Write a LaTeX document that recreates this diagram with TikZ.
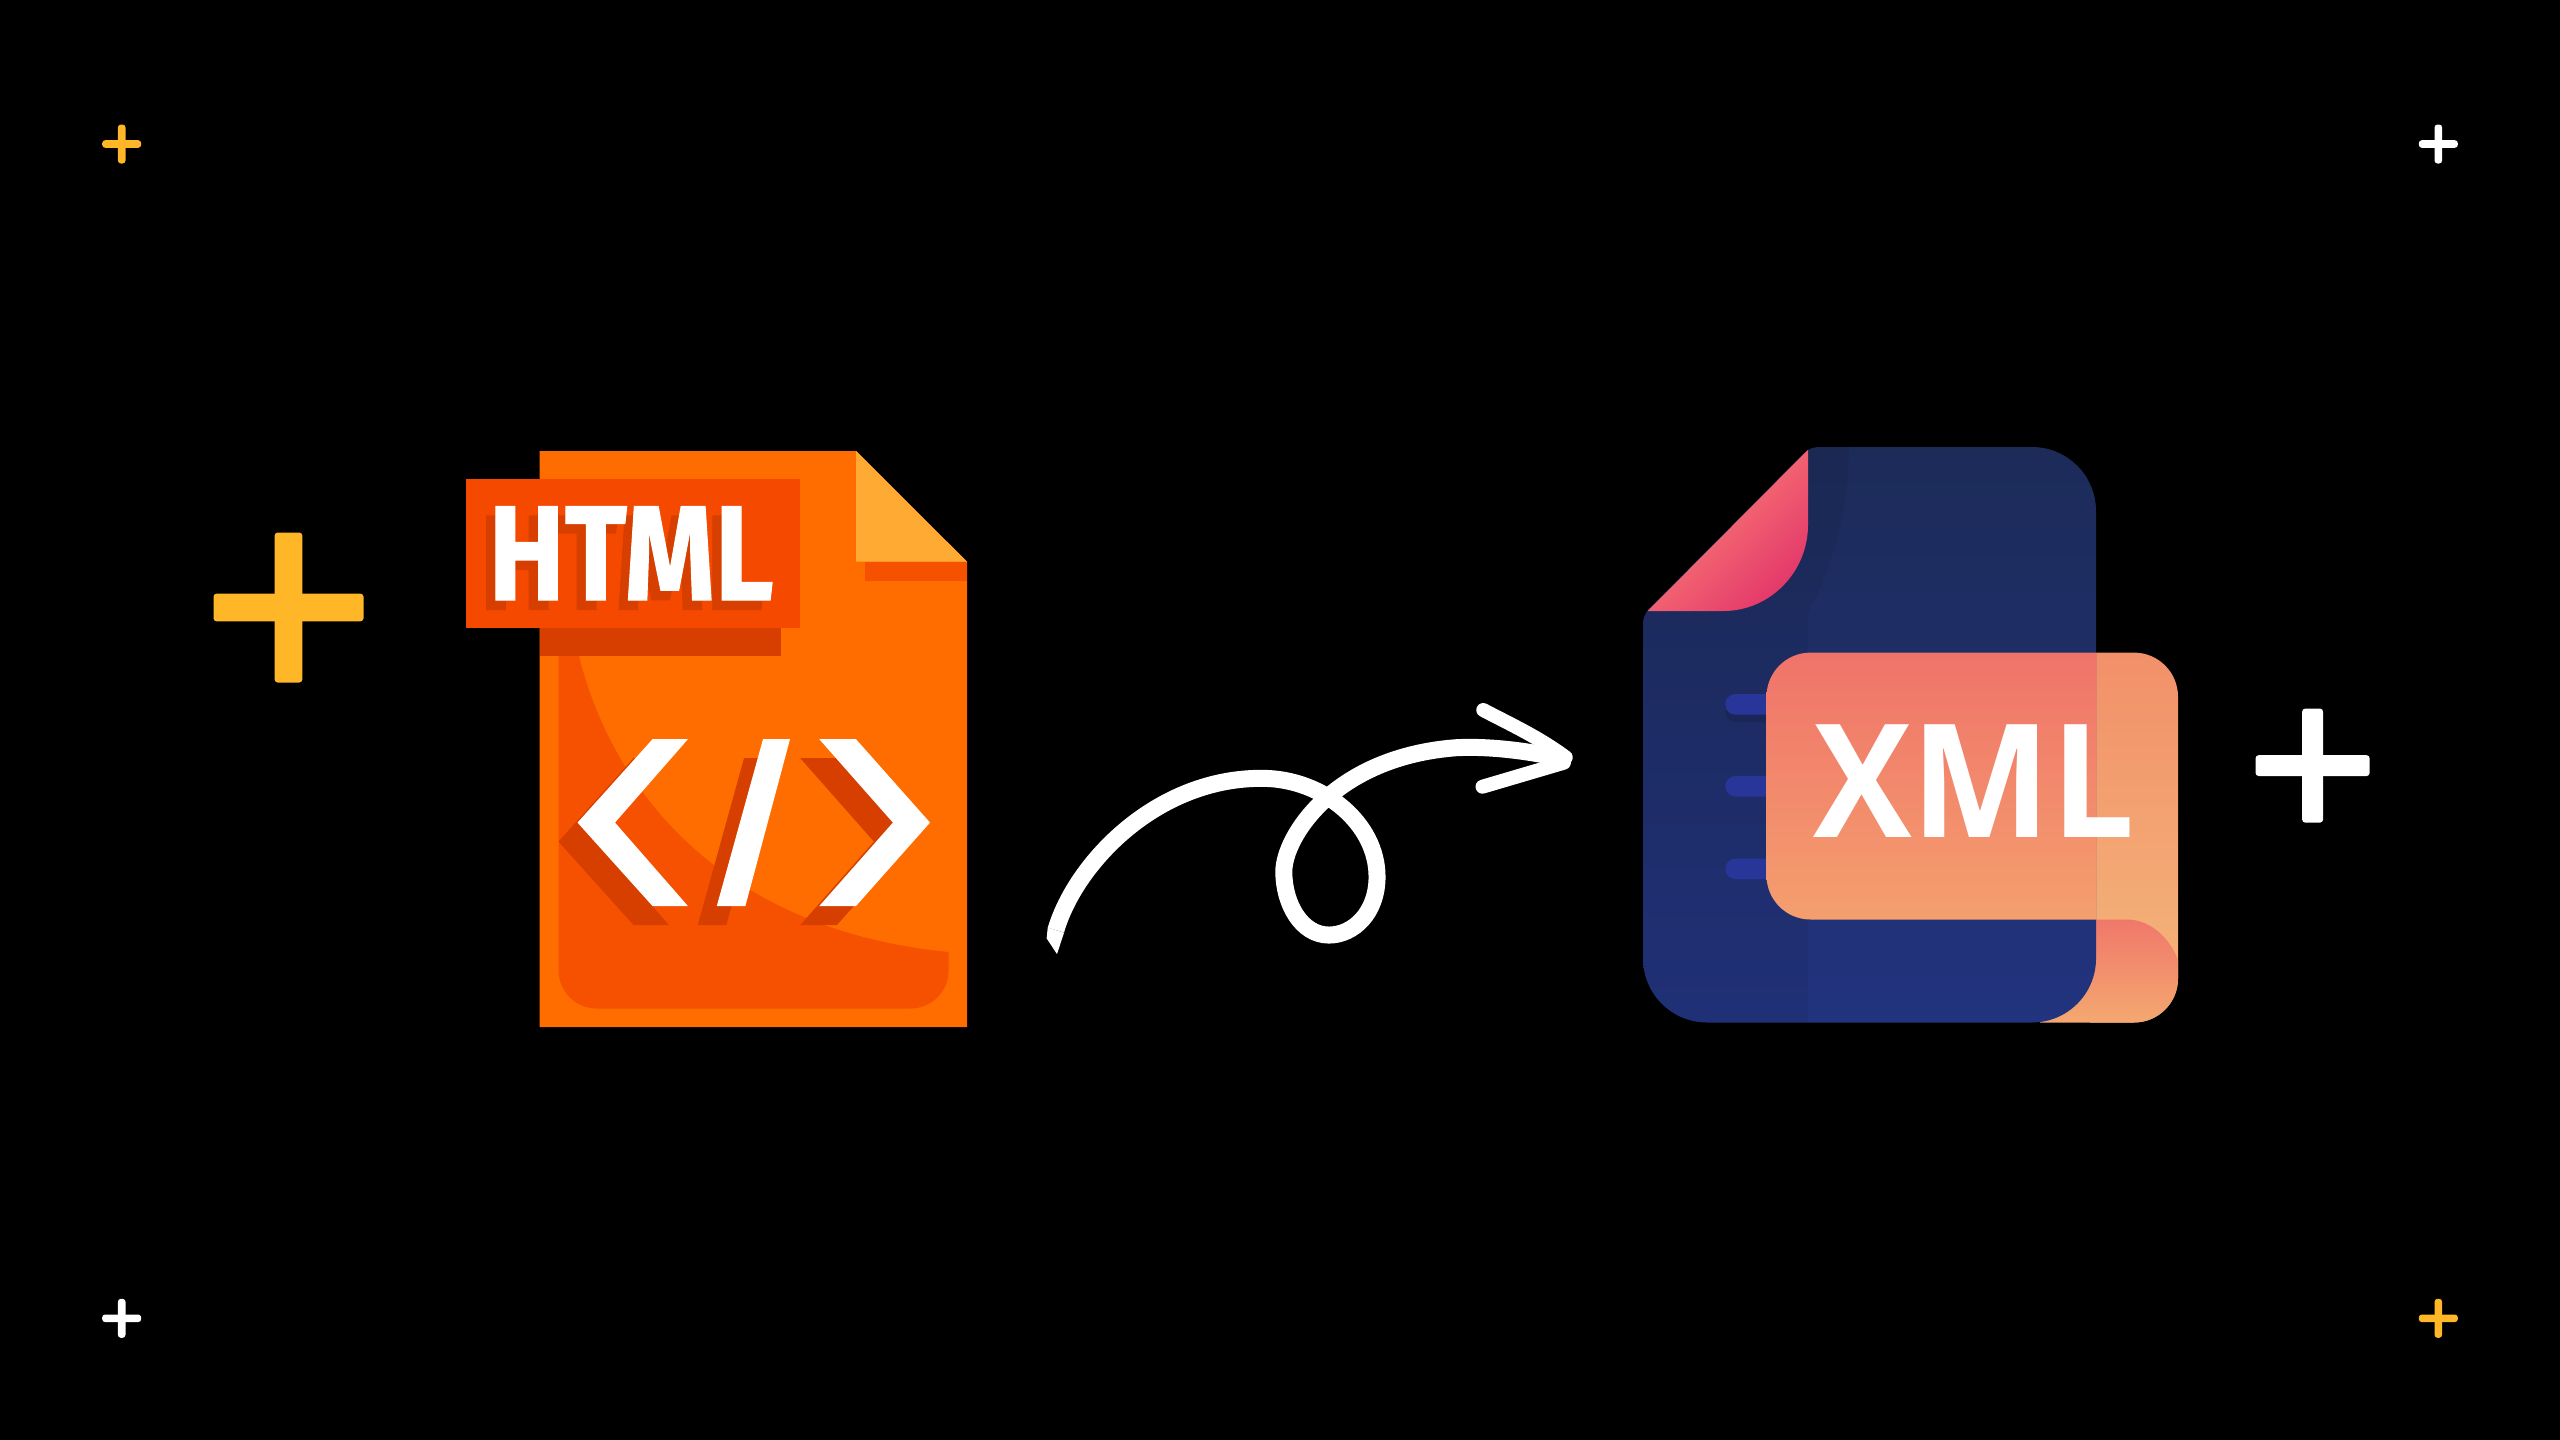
\documentclass[tikz,border=0pt]{standalone}
\usepackage{fontspec}
\newfontfamily\htmlfont{Fira Sans}[BoldFeatures={FakeBold=1}]
\newfontfamily\xmlfont{Open Sans}
\definecolor{plusamber}{HTML}{FFB627}
\definecolor{docorange}{HTML}{FF6D00}
\definecolor{docdeep}{HTML}{F55100}
\definecolor{labelred}{HTML}{F54900}
\definecolor{shadowred}{HTML}{D63F00}
\definecolor{foldamber}{HTML}{FFAB33}
\definecolor{backtop}{HTML}{F2906A}
\definecolor{backbottom}{HTML}{F4B87A}
\definecolor{curltop}{HTML}{F0786A}
\definecolor{curlbottom}{HTML}{F4A870}
\definecolor{doctop}{HTML}{1C2B58}
\definecolor{docbottom}{HTML}{22337F}
\definecolor{foldlight}{HTML}{FF8A78}
\definecolor{folddeep}{HTML}{E3386A}
\definecolor{listblue}{HTML}{28369A}
\definecolor{bannertop}{HTML}{F0736A}
\definecolor{bannerbottom}{HTML}{F49F6E}
\tikzset{
  plusbar/.style={fill=#1,rounded corners=1.5pt},
  htmltext/.style={font=\htmlfont\bfseries\fontsize{67.5}{67.5}\selectfont,inner sep=0pt,anchor=base},
  xmltext/.style={font=\xmlfont\bfseries\fontsize{79}{79}\selectfont,inner sep=0pt,anchor=base,text=white},
  loopstroke/.style={draw=white,line width=8.5pt,line join=round},
  barb/.style={draw=white,line width=7pt,line cap=round,line join=round},
  listline/.style={fill=#1,rounded corners=5pt},
}
% centre x, centre y, half length, half thickness, colour
\newcommand{\plusmark}[5]{%
  \fill[plusbar=#5] (#1-#3,#2-#4) rectangle (#1+#3,#2+#4);
  \fill[plusbar=#5] (#1-#4,#2-#3) rectangle (#1+#4,#2+#3);
}
\newcommand{\xmldocpath}{(1810,447) [rounded corners=32pt] -- (2096,447) -- (2096,1022.5) -- (1643,1022.5) [rounded corners=4pt] -- (1643,615) -- cycle}
\newcommand{\leftchevron}{(652.5,739.2) -- (687.9,739.2) -- (615,822.6) -- (687.9,906) -- (652.5,906) -- (577.5,822.6) -- cycle}
\newcommand{\slashbar}{(763,739.2) -- (790,739.2) -- (745.4,906) -- (716.8,906) -- cycle}
\newcommand{\rightchevron}{(819.3,739.2) -- (856,739.2) -- (930,822.6) -- (856,906) -- (819.3,906) -- (892.9,822.6) -- cycle}
\begin{document}
\begin{tikzpicture}[x=0.5pt,y=-0.5pt]
\useasboundingbox (0,0) rectangle (2560,1440);
\fill[black] (0,0) rectangle (2560,1440);

% plus marks
\plusmark{121.7}{144}{19.5}{3.8}{plusamber}
\plusmark{2438.3}{144}{19.5}{3.8}{white}
\plusmark{121.7}{1318.3}{19.5}{3.8}{white}
\plusmark{2438.3}{1318.3}{19.5}{3.8}{plusamber}
\plusmark{288.5}{607.5}{75}{13.8}{plusamber}
\plusmark{2312.6}{765.6}{57}{10.4}{white}

% HTML file
\fill[docorange] (539.6,451) -- (856,451) -- (967,561.7) -- (967,1027) -- (539.6,1027) -- cycle;
\fill[docdeep] (558.6,656) -- (579,656) .. controls (612,790) and (722,930) .. (948.6,952)
  [rounded corners=19pt] -- (948.6,1008.5) -- (558.6,1008.5) [sharp corners] -- cycle;
\fill[shadowred] (540,610) rectangle (781,655.8);
\fill[docdeep] (865,561.7) rectangle (967,581.4);
\fill[foldamber] (856,451) -- (967,561.7) -- (856,561.7) -- cycle;
\fill[labelred] (466,479) rectangle (800,627.7);
\node[htmltext,text=shadowred] (htmlshadow) at (621.7,609.5) {\scalebox{.85}[1]{HTML}};
\node[htmltext,text=white] (htmllabel) at (631,600) {\scalebox{.85}[1]{HTML}};
\begin{scope}[shift={(-19,19)}]
  \fill[shadowred] \leftchevron;
  \fill[shadowred] \slashbar;
  \fill[shadowred] \rightchevron;
\end{scope}
\fill[white] \leftchevron;
\fill[white] \slashbar;
\fill[white] \rightchevron;

% XML file: back of the scroll and its curl
\shade[top color=backtop,bottom color=backbottom]
  (2090,652.6) [rounded corners=22pt] -- (2178,652.6) -- (2178,1022.5) [sharp corners] -- (2090,1022.5) -- cycle;
\shade[top color=curltop,bottom color=curlbottom]
  (2080,919.5) -- (2127,919.5) .. controls (2150,919.5) and (2170,938) .. (2178,960)
  [rounded corners=22pt] -- (2178,1022.5) [sharp corners] -- (2040,1022.5) -- cycle;
% XML file: page
\shade[top color=doctop,bottom color=docbottom] \xmldocpath;
\begin{scope}
  \clip \xmldocpath;
  \fill[black,opacity=.06] (1800,447) -- (1849,447) .. controls (1849,510) and (1830,575) .. (1808,612) -- (1808,1022.5) -- (1640,1022.5) -- (1640,447) -- cycle;
\end{scope}
\shade[top color=foldlight,bottom color=folddeep,shading angle=45]
  (1808,449.8) -- (1808,525) .. controls (1808,572) and (1770,611) .. (1723.6,611) -- (1647.7,611) -- cycle;
\fill[black,opacity=.12,rounded corners=5pt] (1725.4,702) rectangle (1790,722);
\fill[listline=listblue] (1725.4,694) rectangle (1790,714.7);
\fill[listline=listblue] (1725.4,776) rectangle (1790,796.5);
\fill[listline=listblue] (1725.4,858.6) rectangle (1790,879);
% XML file: banner
\shade[top color=bannertop,bottom color=bannerbottom]
  (2096,652.6) [rounded corners=22pt] -- (1766.5,652.6) -- (1766.5,919.5) [sharp corners] -- (2096,919.5) -- cycle;
\node[xmltext] (xmllabel) at (1974,837.3) {\scalebox{.935}[1]{XML}};

% hand-drawn arrow
\begin{scope}[shift={(1020,680)},x=0.185pt,y=-0.1667pt]
  \fill[white] (75,742) -- (72,775) -- (100,822) -- (119,758) -- cycle;
  \draw[loopstroke] (97,750) .. controls (150,550) and (370,290) .. (660,295)
    .. controls (820,298) and (965,430) .. (965,590)
    .. controls (965,700) and (900,765) .. (835,765)
    .. controls (760,765) and (713,670) .. (713,575)
    .. controls (713,470) and (850,230) .. (1180,203)
    .. controls (1280,198) and (1380,215) .. (1470,236);
  \draw[barb] (1252,90) .. controls (1320,130) and (1400,170) .. (1475,232);
  \draw[barb] (1250,320) -- (1470,248);
\end{scope}
\end{tikzpicture}
\end{document}
